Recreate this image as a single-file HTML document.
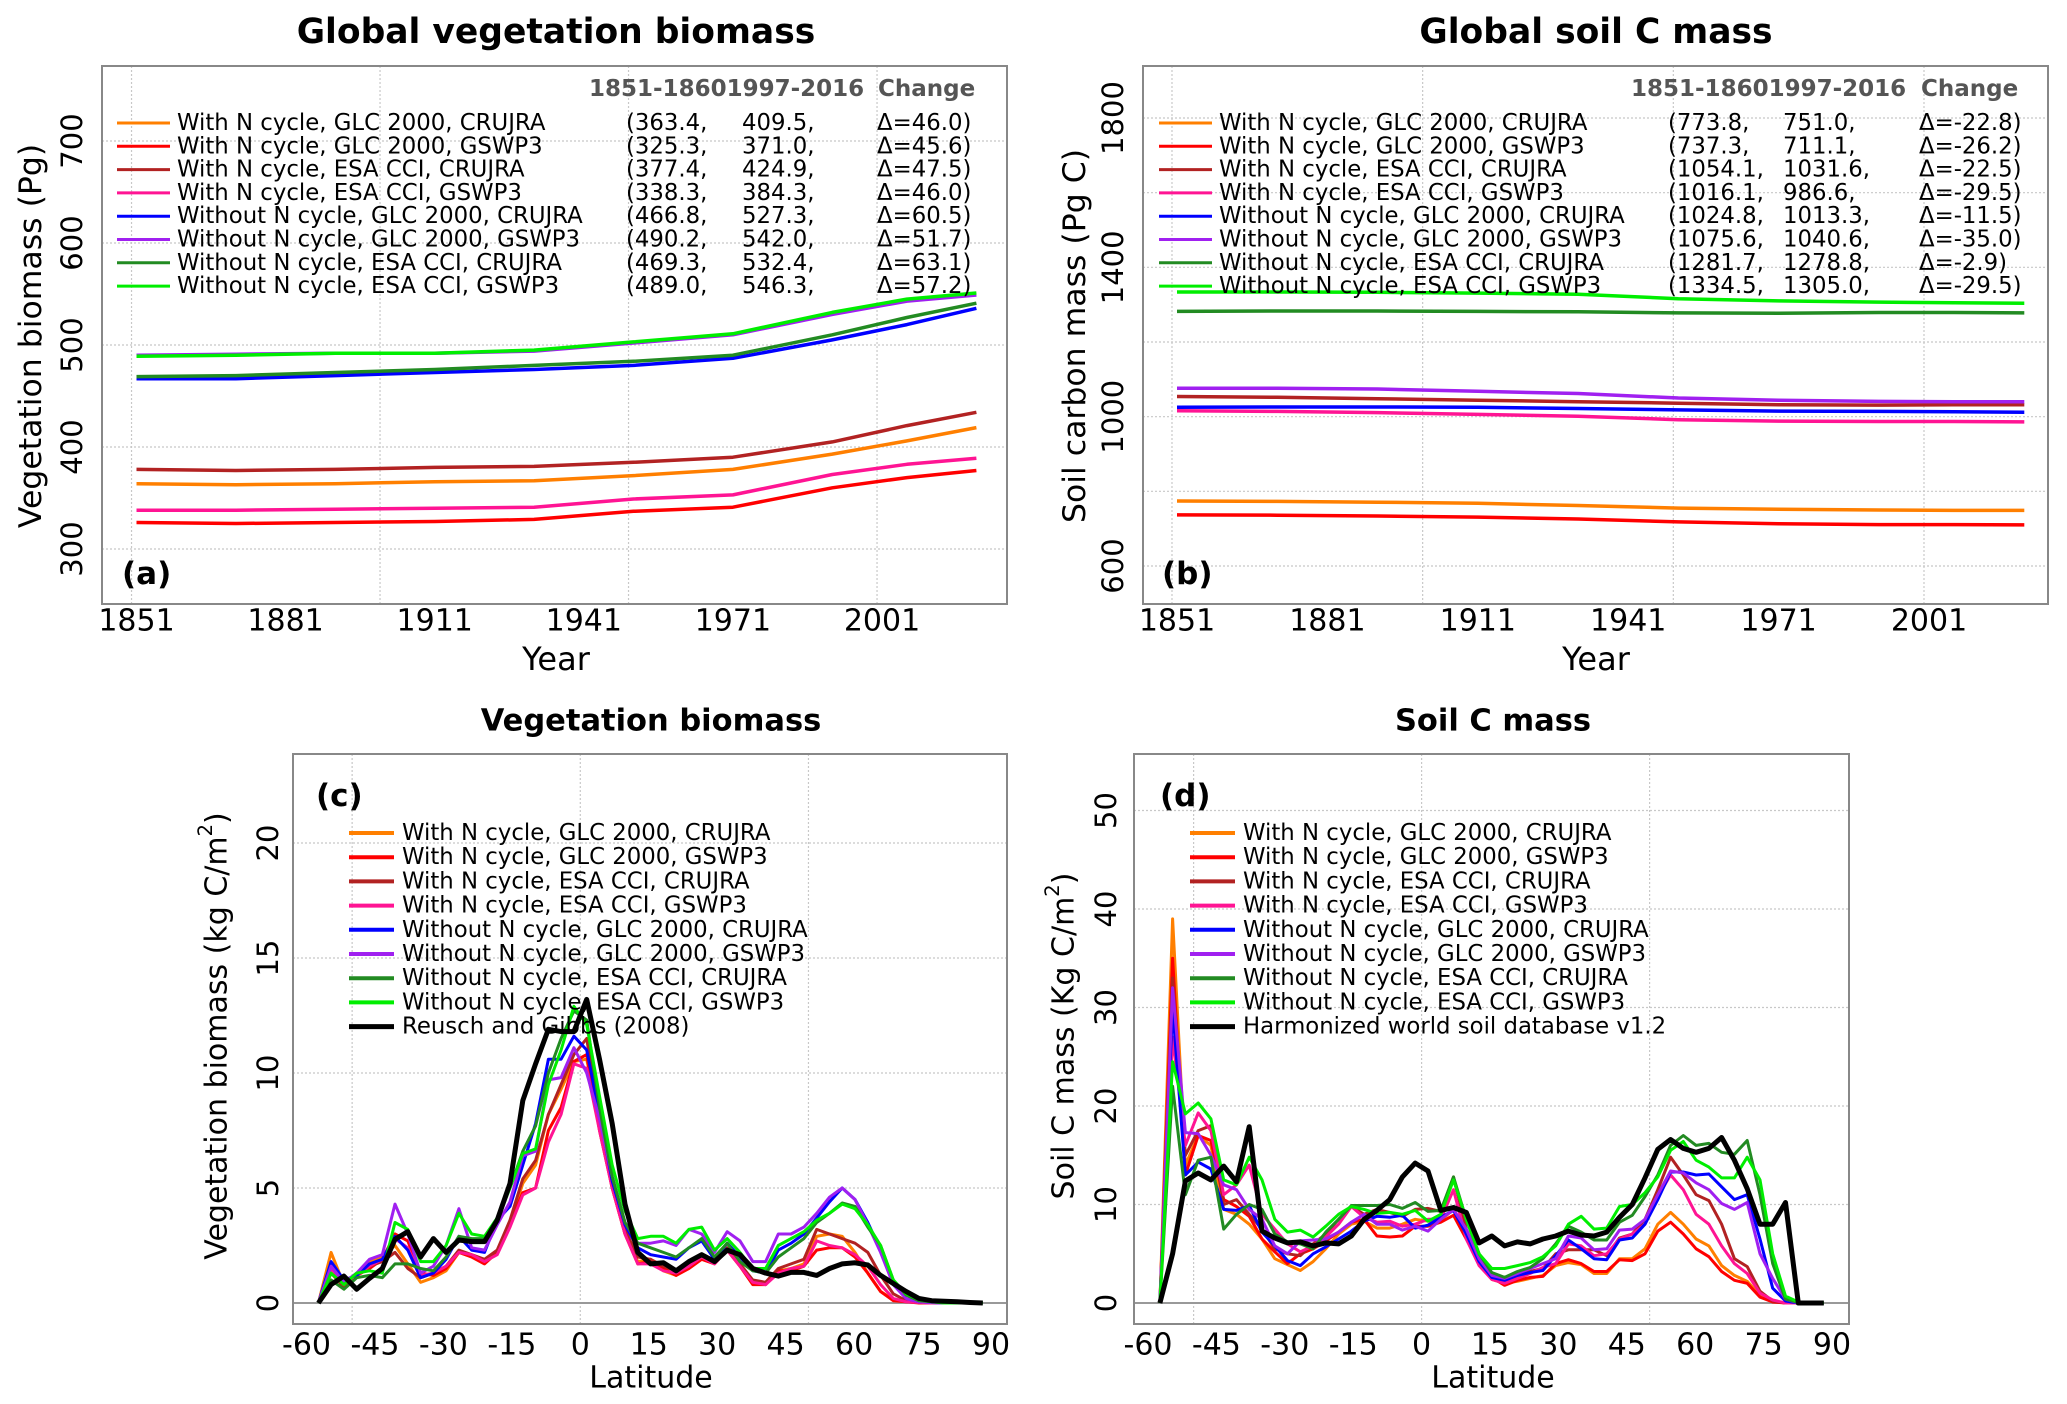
<!DOCTYPE html>
<html><head><meta charset="utf-8"><style>
html,body{margin:0;padding:0;background:#fff;}
svg{display:block;font-family:"DejaVu Sans","Liberation Sans",sans-serif;}
</style></head><body>
<svg id="fig" xmlns="http://www.w3.org/2000/svg" width="2067" height="1404" viewBox="0 0 2067 1404"></svg>
<script>
// ---------- DATA ----------
const seriesNames = ["With N cycle, GLC 2000, CRUJRA","With N cycle, GLC 2000, GSWP3","With N cycle, ESA CCI, CRUJRA","With N cycle, ESA CCI, GSWP3","Without N cycle, GLC 2000, CRUJRA","Without N cycle, GLC 2000, GSWP3","Without N cycle, ESA CCI, CRUJRA","Without N cycle, ESA CCI, GSWP3"];
const seriesColors = ["#ff7f00","#ff0000","#b22222","#ff1493","#0000ff","#a020f0","#228b22","#00ee00"];
const years = [1851,1871,1891,1911,1931,1951,1971,1991,2006,2020];
// panel a (Pg)
const vegA_orange = [364,363,364,366,367,372,378,393,406,419];
const vegA_red = [326,325,326,327,329,337,341,360,370,377];
const vegA_darkred = [378,377,378,380,381,385,390,405,421,434];
const vegA_pink = [338,338,339,340,341,349,353,373,383,389];
const vegA_blue = [467,467,470,473,476,480,487,505,520,536];
const vegA_purple = [490,491,492,492,494,502,510,530,543,549];
const vegA_dkgreen = [469,470,473,476,480,484,490,510,527,541];
const vegA_lime = [489,490,492,492,495,503,511,532,545,551];
const vegA_v1 = ["(363.4,","(325.3,","(377.4,","(338.3,","(466.8,","(490.2,","(469.3,","(489.0,"];
const vegA_v2 = ["409.5,","371.0,","424.9,","384.3,","527.3,","542.0,","532.4,","546.3,"];
const vegA_d = ["Δ=46.0)","Δ=45.6)","Δ=47.5)","Δ=46.0)","Δ=60.5)","Δ=51.7)","Δ=63.1)","Δ=57.2)"];
// panel b (Pg C)
const soilB_orange = [774,773,771,768,762,755,752,750,749,749];
const soilB_red = [737,736,734,731,726,718,713,711,711,710];
const soilB_darkred = [1054,1052,1048,1044,1040,1036,1032,1031,1032,1032];
const soilB_pink = [1016,1014,1011,1006,1001,992,988,987,987,986];
const soilB_blue = [1025,1026,1026,1025,1022,1018,1015,1014,1013,1012];
const soilB_purple = [1076,1076,1074,1068,1062,1050,1044,1041,1040,1040];
const soilB_dkgreen = [1282,1283,1283,1282,1281,1278,1277,1279,1279,1278];
const soilB_lime = [1334,1334,1333,1331,1328,1316,1310,1307,1305,1304];
const soilB_v1 = ["(773.8,","(737.3,","(1054.1,","(1016.1,","(1024.8,","(1075.6,","(1281.7,","(1334.5,"];
const soilB_v2 = ["751.0,","711.1,","1031.6,","986.6,","1013.3,","1040.6,","1278.8,","1305.0,"];
const soilB_d = ["Δ=-22.8)","Δ=-26.2)","Δ=-22.5)","Δ=-29.5)","Δ=-11.5)","Δ=-35.0)","Δ=-2.9)","Δ=-29.5)"];
// latitudes
const lats = [-57.4,-54.6,-51.8,-49.0,-46.2,-43.4,-40.6,-37.8,-35.0,-32.2,-29.4,-26.6,-23.8,-21.0,-18.2,-15.4,-12.6,-9.8,-7.0,-4.2,-1.4,1.4,4.2,7.0,9.8,12.6,15.4,18.2,21.0,23.8,26.6,29.4,32.2,35.0,37.8,40.6,43.4,46.2,49.0,51.8,54.6,57.4,60.2,63.0,65.8,68.6,71.4,74.2,77.0,79.8,82.6,85.4,88.2];
// panel c (kg C/m2)
const vegC_orange = [0,2.2,0.8,1.3,1.8,2.0,2.5,1.7,0.9,1.1,1.4,2.2,2.0,1.8,2.2,3.5,5.2,6.0,8.2,9.3,10.5,10.6,7.8,5.0,3.0,1.8,1.9,1.4,1.2,1.6,2.0,1.8,2.3,1.6,0.9,0.8,1.4,1.5,1.7,2.9,3.0,2.9,2.2,1.3,0.5,0.15,0.05,0.02,0,0,0,0,0];
const vegC_red = [0,1.7,0.8,1.2,1.5,1.9,3.0,2.7,1.3,1.2,1.5,2.2,2.0,1.7,2.2,3.5,4.8,5.0,7.5,8.5,10.5,10.8,7.5,5.0,3.0,1.7,1.8,1.5,1.2,1.5,1.9,1.7,2.3,1.6,0.8,0.8,1.4,1.4,1.6,2.3,2.4,2.4,2.0,1.3,0.5,0.1,0.05,0,0,0,0,0,0];
const vegC_darkred = [0,1.3,0.7,1.2,1.6,1.8,2.2,1.5,1.1,1.3,1.6,2.3,2.1,1.9,2.3,3.6,5.4,6.2,8.2,9.5,10.8,11.5,8.0,5.2,3.2,2.0,1.9,1.6,1.4,1.7,2.1,1.8,2.4,1.7,1.0,0.9,1.5,1.7,1.9,3.2,3.0,2.8,2.6,2.2,1.2,0.4,0.1,0.05,0,0,0,0,0];
const vegC_pink = [0,1.5,0.9,1.2,1.6,1.9,2.8,2.4,1.2,1.3,1.6,2.2,2.1,1.8,2.1,3.3,4.7,5.0,7.0,8.2,10.4,10.2,7.5,5.0,3.0,1.7,1.7,1.4,1.3,1.6,2.0,1.7,2.3,1.6,0.9,0.8,1.3,1.5,1.6,2.7,2.5,2.4,2.1,1.6,0.8,0.2,0.05,0.02,0,0,0,0,0];
const vegC_blue = [0,1.8,1.0,1.2,1.7,1.9,2.9,2.3,1.1,1.3,1.9,2.9,2.3,2.2,3.6,4.2,6.0,7.8,10.6,10.6,11.6,11.0,8.2,5.3,3.4,2.4,2.1,2.0,1.9,2.4,2.7,1.9,2.6,2.0,1.4,1.3,2.3,2.6,3.0,3.7,4.4,5.0,4.5,3.5,2.3,0.8,0.2,0.05,0.02,0,0,0,0];
const vegC_purple = [0,1.6,0.9,1.3,1.9,2.1,4.3,3.0,1.3,1.6,2.5,4.1,2.4,2.3,3.4,4.4,6.4,6.6,9.7,9.8,11.1,10.0,8.0,5.5,3.5,2.6,2.6,2.7,2.5,3.2,3.0,2.2,3.1,2.7,1.8,1.8,3.0,3.0,3.3,3.9,4.6,5.0,4.5,3.4,2.2,0.8,0.2,0.05,0.02,0,0,0,0];
const vegC_dkgreen = [0,1.0,0.6,1.1,1.2,1.1,1.7,1.7,1.5,1.4,2.0,2.9,2.8,2.8,3.6,5.0,6.6,7.7,10.0,11.5,12.7,12.3,8.5,5.5,3.5,2.6,2.4,2.2,2.0,2.4,2.8,2.0,2.6,1.8,1.4,1.3,2.0,2.4,2.8,3.5,3.9,4.35,4.2,3.3,2.5,1.0,0.35,0.1,0.05,0,0,0,0];
const vegC_lime = [0,1.3,0.8,1.3,1.4,1.3,3.5,3.2,1.8,1.8,2.5,3.9,3.0,2.9,3.7,5.0,6.5,6.7,9.5,11.0,12.9,12.1,9.0,6.0,4.0,2.8,2.9,2.9,2.6,3.2,3.3,2.3,2.8,2.2,1.5,1.5,2.5,2.8,3.1,3.6,3.9,4.3,4.1,3.4,2.5,1.0,0.4,0.15,0.05,0,0,0,0];
const vegC_obs = [0,0.8,1.17,0.6,1.07,1.5,2.77,3.1,2.0,2.8,2.2,2.74,2.67,2.67,3.6,5.2,8.8,10.4,11.9,11.8,11.8,13.2,10.6,7.8,4.3,2.2,1.7,1.75,1.4,1.8,2.1,1.8,2.3,2.1,1.5,1.3,1.17,1.33,1.33,1.2,1.5,1.7,1.75,1.65,1.2,0.85,0.5,0.2,0.1,0.08,0.05,0.02,0];
// panel d (kg C/m2)
const soilD_orange = [0,39,14,17.0,16.0,9.5,9.0,8.0,6.5,4.5,3.9,3.3,4.2,5.5,7.0,8.0,8.3,7.6,7.6,8.0,8.5,8.3,8.4,9.5,7.0,4.0,2.4,2.0,2.2,2.5,2.8,3.8,4.1,3.9,3.0,3.0,4.5,4.5,5.5,8.0,9.2,8.0,6.5,5.8,3.8,2.8,2.2,0.8,0.2,0,0,0,0];
const soilD_red = [0,35,13,17.0,16.5,10.5,9.8,8.8,6.5,5.2,4.0,5.0,5.5,6.3,7.2,8.2,8.5,6.8,6.7,6.8,7.8,7.8,8.2,8.9,6.5,4.0,2.6,1.8,2.3,2.6,2.7,4.0,4.4,4.0,3.2,3.2,4.4,4.3,5.0,7.3,8.2,7.0,5.5,4.7,3.2,2.3,2.0,0.6,0.1,0,0,0,0];
const soilD_darkred = [0,33,15,17.5,18.0,10.0,10.5,9.0,7.5,5.5,5.0,4.8,6.0,7.0,8.5,9.8,9.0,9.5,9.2,8.8,9.5,9.6,9.3,12.8,7.5,4.0,2.6,2.3,2.7,3.2,3.5,5.0,5.4,5.4,5.4,4.8,6.6,7.0,8.5,11.5,14.8,13.0,11.0,10.4,8.0,4.5,3.7,1.2,0.2,0,0,0,0];
const soilD_pink = [0,27,16,19.3,17.5,11.0,12.0,14.0,9.0,7.5,6.0,5.2,5.8,6.7,8.0,9.8,8.7,8.2,8.3,7.8,8.0,8.5,8.5,11.5,6.5,3.8,2.4,2.0,2.5,3.0,3.6,4.0,6.0,5.8,4.8,5.0,6.5,7.0,8.0,10.8,13.0,11.5,9.0,8.0,5.8,4.0,3.0,1.0,0.3,0,0,0,0];
const soilD_blue = [0,30,13.0,14.3,13.6,9.5,9.4,9.9,7.2,5.8,4.3,3.8,5.0,5.7,6.5,7.3,8.3,8.8,8.7,8.9,7.6,7.9,8.7,9.4,7.0,4.2,2.6,2.3,2.8,3.1,3.3,4.8,6.4,5.5,4.5,4.4,6.4,6.6,8.0,10.5,13.3,13.3,13.0,13.1,11.8,10.5,11.0,6.5,1.5,0.2,0,0,0];
const soilD_purple = [0,32,17.3,17.2,15.0,12.0,11.5,9.5,8.5,5.8,5.0,6.3,6.4,6.5,7.2,8.2,9.0,8.0,8.0,7.4,7.8,7.3,8.5,9.5,7.5,4.5,2.8,2.5,3.0,3.5,4.0,4.5,6.8,6.6,5.4,5.5,7.4,7.5,8.5,11.0,13.4,13.2,12.2,11.5,10.1,9.5,10.2,5.0,2.5,0.4,0,0,0];
const soilD_dkgreen = [0,22.0,11.0,14.5,14.8,7.5,9.0,10.0,9.5,7.0,6.2,6.0,5.5,7.2,8.5,9.9,9.9,9.9,10.0,9.6,10.2,9.3,9.4,12.8,8.5,5.0,3.1,2.6,3.2,3.6,4.5,6.0,7.8,7.2,6.4,6.4,8.2,8.9,10.8,13.0,16.0,17.0,16.0,16.2,15.3,15.1,16.5,11.0,4.0,0.4,0.05,0,0];
const soilD_lime = [0,24.5,19.2,20.3,18.7,12.5,12.0,14.8,12.5,8.5,7.2,7.4,6.7,7.8,9.0,9.8,9.5,9.1,9.2,9.0,9.4,8.3,9.0,12.5,8.5,5.0,3.5,3.5,3.8,4.1,4.7,5.8,8.0,8.8,7.5,7.6,9.8,10.0,11.2,12.8,15.5,16.4,14.5,13.8,12.7,12.7,14.8,12.5,5.0,0.7,0.1,0,0];
const soilD_obs = [0,5.0,12.4,13.2,12.5,13.9,12.3,17.9,7.3,6.6,6.1,6.2,5.8,6.1,6.0,6.8,8.5,9.4,10.5,12.8,14.2,13.4,9.4,9.7,9.2,6.1,6.8,5.8,6.2,6.0,6.5,6.8,7.3,6.9,6.8,7.2,8.7,10.0,12.7,15.6,16.6,15.7,15.3,15.7,16.8,14.5,11.6,8.0,8.0,10.2,0,0,0];

const yearTicks = [1851,1881,1911,1941,1971,2001];
const yearGrid = [1850,1900,1950,2000];
const vegATicks = [300,400,500,600,700];
const soilBTicks = [600,1000,1400,1800];
const soilBGrid = [600,800,1000,1200,1400,1600,1800];
const latTicks = [-60,-45,-30,-15,0,15,30,45,60,75,90];
const latGrid = [-50,0,50];
const vegCTicks = [0,5,10,15,20];
const soilDTicks = [0,10,20,30,40,50];

// ---------- DRAW ----------
const NS = "http://www.w3.org/2000/svg";
const svg = document.getElementById("fig");
const LEGFS = 22.8;
function mk(tag, attrs, parent, text) {
  const e = document.createElementNS(NS, tag);
  for (const k in attrs) e.setAttribute(k, attrs[k]);
  if (text !== undefined) e.textContent = text;
  (parent || svg).appendChild(e);
  return e;
}
function linScale(d0, d1, r0, r1) { return v => r0 + (v - d0) * (r1 - r0) / (d1 - d0); }

function panel(cfg) {
  const g = mk("g", {});
  
  
  const X = cfg.x, Y = cfg.y, B = cfg.box;
  const t = mk("text", {x: cfg.titleX, y: cfg.titleY, "text-anchor": "middle", "dominant-baseline": "central", "font-size": cfg.titleSize, "font-weight": "bold"}, g, cfg.title);
  
  
  const gg = mk("g", {stroke: "#c8c8c8", "stroke-width": 1.2, "stroke-dasharray": "2,2"}, g);
  
  
  cfg.xGrid.forEach(v => { const l = mk("line", {x1: X(v), x2: X(v), y1: B[1], y2: B[3]}, gg);   });
  cfg.yGrid.forEach(v => { const l = mk("line", {x1: B[0], x2: B[2], y1: Y(v), y2: Y(v)}, gg);   });
  if (cfg.zeroLine) {
    const z = mk("line", {x1: B[0], x2: B[2], y1: Y(0), y2: Y(0), stroke: "#999", "stroke-width": 2}, g);
    
    
  }
  cfg.series.forEach((s, i) => {
    const pts = s.vals.map((v, j) => X(cfg.xs[j]).toFixed(1) + "," + Y(v).toFixed(1)).join(" ");
    const p = mk("polyline", {points: pts, fill: "none", stroke: s.color, "stroke-width": s.w, "stroke-linejoin": "round"}, g);
    
    
  });
  const bx = mk("rect", {x: B[0], y: B[1], width: B[2] - B[0], height: B[3] - B[1], fill: "none", stroke: "#888", "stroke-width": 2}, g);
  
  
  cfg.xTicks.forEach(v => {
    const tx = mk("text", {x: X(v), y: cfg.xTickY, "text-anchor": "middle", "dominant-baseline": "central", "font-size": 30}, g, String(v));
    
    
  });
  cfg.yTicks.forEach(v => {
    const ty = mk("text", {x: cfg.yTickX, y: Y(v), "text-anchor": "middle", "dominant-baseline": "central", "font-size": 29, transform: `rotate(-90 ${cfg.yTickX} ${Y(v)})`}, g, String(v));
    
    
  });
  const xl = mk("text", {x: cfg.xLabelX, y: cfg.xLabelY, "text-anchor": "middle", "dominant-baseline": "central", "font-size": cfg.xLabelSize}, g, cfg.xLabel);
  
  
  const yl = mk("text", {x: cfg.yLabelX, y: cfg.yLabelY, "text-anchor": "middle", "dominant-baseline": "central", "font-size": cfg.yLabelSize, transform: `rotate(-90 ${cfg.yLabelX} ${cfg.yLabelY})`}, g);
  
  
  yl.appendChild(document.createTextNode(cfg.yLabel));
  if (cfg.yLabelSup) {
    mk("tspan", {"baseline-shift": "super", "font-size": cfg.yLabelSize * 0.65}, yl, "2");
    mk("tspan", {}, yl, ")");
  }
  const pl = mk("text", {x: cfg.letterX, y: cfg.letterY, "font-size": 31, "font-weight": "bold", "dominant-baseline": "central"}, g, cfg.letter);
  
  
  const lg = mk("g", {}, g);
  
  
  const L = cfg.legend;
  if (L.header) {
    const h1 = mk("text", {x: L.hx1, y: L.hy, "font-size": 23, "font-weight": "bold", fill: "#555", "dominant-baseline": "central"}, lg, "1851-18601997-2016");
    
    
    const h2 = mk("text", {x: L.hx2, y: L.hy, "font-size": 23, "font-weight": "bold", fill: "#555", "dominant-baseline": "central"}, lg, "Change");
    
    
  }
  L.labels.forEach((lab, i) => {
    const yy = L.y0 + i * L.dy;
    const e = mk("g", {}, lg);
    
    
    mk("line", {x1: L.lx1, x2: L.lx2, y1: yy, y2: yy, stroke: L.colors[i], "stroke-width": L.lw[i]}, e);
    mk("text", {x: L.tx, y: yy, "font-size": LEGFS, "dominant-baseline": "central"}, e, lab);
    if (L.c1) {
      mk("text", {x: L.c1x, y: yy, "font-size": LEGFS, "dominant-baseline": "central"}, e, L.c1[i]);
      mk("text", {x: L.c2x, y: yy, "font-size": LEGFS, "dominant-baseline": "central"}, e, L.c2[i]);
      mk("text", {x: L.c3x, y: yy, "font-size": LEGFS, "dominant-baseline": "central"}, e, L.c3[i]);
    }
  });
}

// Panel a
{
  const X = linScale(1851, 2001, 136.5, 882), Y = linScale(300, 700, 549, 141);
  const vals = [vegA_orange, vegA_red, vegA_darkred, vegA_pink, vegA_blue, vegA_purple, vegA_dkgreen, vegA_lime];
  panel({name: "panel-a-global-vegetation", x: X, y: Y, box: [102, 66, 1007, 604], title: "Global vegetation biomass", titleX: 556, titleY: 32, titleSize: 34.5,
    xGrid: yearGrid, yGrid: vegATicks, xs: years,
    series: vals.map((v, i) => ({vals: v, color: seriesColors[i], w: 3.5})),
    xTicks: yearTicks, xTickY: 621, yTicks: vegATicks, yTickX: 72,
    xLabel: "Year", xLabelX: 556, xLabelY: 659, xLabelSize: 32,
    yLabel: "Vegetation biomass (Pg)", yLabelX: 31, yLabelY: 336, yLabelSize: 31.5,
    letter: "(a)", letterX: 122, letterY: 574,
    legend: {header: true, hx1: 589, hx2: 878, hy: 89, labels: seriesNames, colors: seriesColors, lw: seriesColors.map(() => 3),
      y0: 123, dy: 23.3, lx1: 117, lx2: 170, tx: 177, c1: vegA_v1, c2: vegA_v2, c3: vegA_d, c1x: 626, c2x: 742, c3x: 877}});
}
// Panel b
{
  const X = linScale(1851, 2001, 1177, 1929), Y = linScale(600, 1800, 566, 118);
  const vals = [soilB_orange, soilB_red, soilB_darkred, soilB_pink, soilB_blue, soilB_purple, soilB_dkgreen, soilB_lime];
  panel({name: "panel-b-global-soil", x: X, y: Y, box: [1143, 66, 2048, 604], title: "Global soil C mass", titleX: 1596, titleY: 32, titleSize: 34.5,
    xGrid: yearGrid, yGrid: soilBGrid, xs: years,
    series: vals.map((v, i) => ({vals: v, color: seriesColors[i], w: 3.5})),
    xTicks: yearTicks, xTickY: 621, yTicks: soilBTicks, yTickX: 1113,
    xLabel: "Year", xLabelX: 1596, xLabelY: 659, xLabelSize: 32,
    yLabel: "Soil carbon mass (Pg C)", yLabelX: 1075, yLabelY: 336, yLabelSize: 31.5,
    letter: "(b)", letterX: 1162, letterY: 574,
    legend: {header: true, hx1: 1631, hx2: 1921, hy: 89, labels: seriesNames, colors: seriesColors, lw: seriesColors.map(() => 3),
      y0: 123, dy: 23.3, lx1: 1159, lx2: 1212, tx: 1219, c1: soilB_v1, c2: soilB_v2, c3: soilB_d, c1x: 1668, c2x: 1783, c3x: 1919}});
}
// Panel c
{
  const X = linScale(-60, 90, 306.5, 991), Y = linScale(0, 20, 1303, 843);
  const vals = [vegC_orange, vegC_red, vegC_darkred, vegC_pink, vegC_blue, vegC_purple, vegC_dkgreen, vegC_lime, vegC_obs];
  const cols = seriesColors.concat(["#000000"]);
  panel({name: "panel-c-vegetation-latitude", x: X, y: Y, box: [293, 754, 1007, 1324], title: "Vegetation biomass", titleX: 651, titleY: 721, titleSize: 30.5,
    xGrid: latGrid, yGrid: [5, 10, 15, 20], xs: lats, zeroLine: true,
    series: vals.map((v, i) => ({vals: v, color: cols[i], w: i === 8 ? 5 : 3})),
    xTicks: latTicks, xTickY: 1345, yTicks: vegCTicks, yTickX: 268,
    xLabel: "Latitude", xLabelX: 651, xLabelY: 1378, xLabelSize: 30,
    yLabel: "Vegetation biomass (kg C/m", yLabelSup: true, yLabelX: 217, yLabelY: 1036, yLabelSize: 30,
    letter: "(c)", letterX: 316, letterY: 796,
    legend: {header: false, labels: seriesNames.concat(["Reusch and Gibbs (2008)"]), colors: cols, lw: cols.map((c, i) => i === 8 ? 5 : 4),
      y0: 833, dy: 24.2, lx1: 349, lx2: 394, tx: 402}});
}
// Panel d
{
  const X = linScale(-60, 90, 1148, 1832), Y = linScale(0, 50, 1303, 810.5);
  const vals = [soilD_orange, soilD_red, soilD_darkred, soilD_pink, soilD_blue, soilD_purple, soilD_dkgreen, soilD_lime, soilD_obs];
  const cols = seriesColors.concat(["#000000"]);
  panel({name: "panel-d-soil-latitude", x: X, y: Y, box: [1134, 754, 1849, 1324], title: "Soil C mass", titleX: 1493, titleY: 721, titleSize: 30.5,
    xGrid: latGrid, yGrid: [10, 20, 30, 40, 50], xs: lats, zeroLine: true,
    series: vals.map((v, i) => ({vals: v, color: cols[i], w: i === 8 ? 5 : 3})),
    xTicks: latTicks, xTickY: 1345, yTicks: soilDTicks, yTickX: 1106,
    xLabel: "Latitude", xLabelX: 1493, xLabelY: 1378, xLabelSize: 30,
    yLabel: "Soil C mass  (Kg C/m", yLabelSup: true, yLabelX: 1064, yLabelY: 1036, yLabelSize: 30,
    letter: "(d)", letterX: 1160, letterY: 796,
    legend: {header: false, labels: seriesNames.concat(["Harmonized world soil database v1.2"]), colors: cols, lw: cols.map((c, i) => i === 8 ? 5 : 4),
      y0: 833, dy: 24.2, lx1: 1190, lx2: 1235, tx: 1243}});
}
</script>
</body></html>
